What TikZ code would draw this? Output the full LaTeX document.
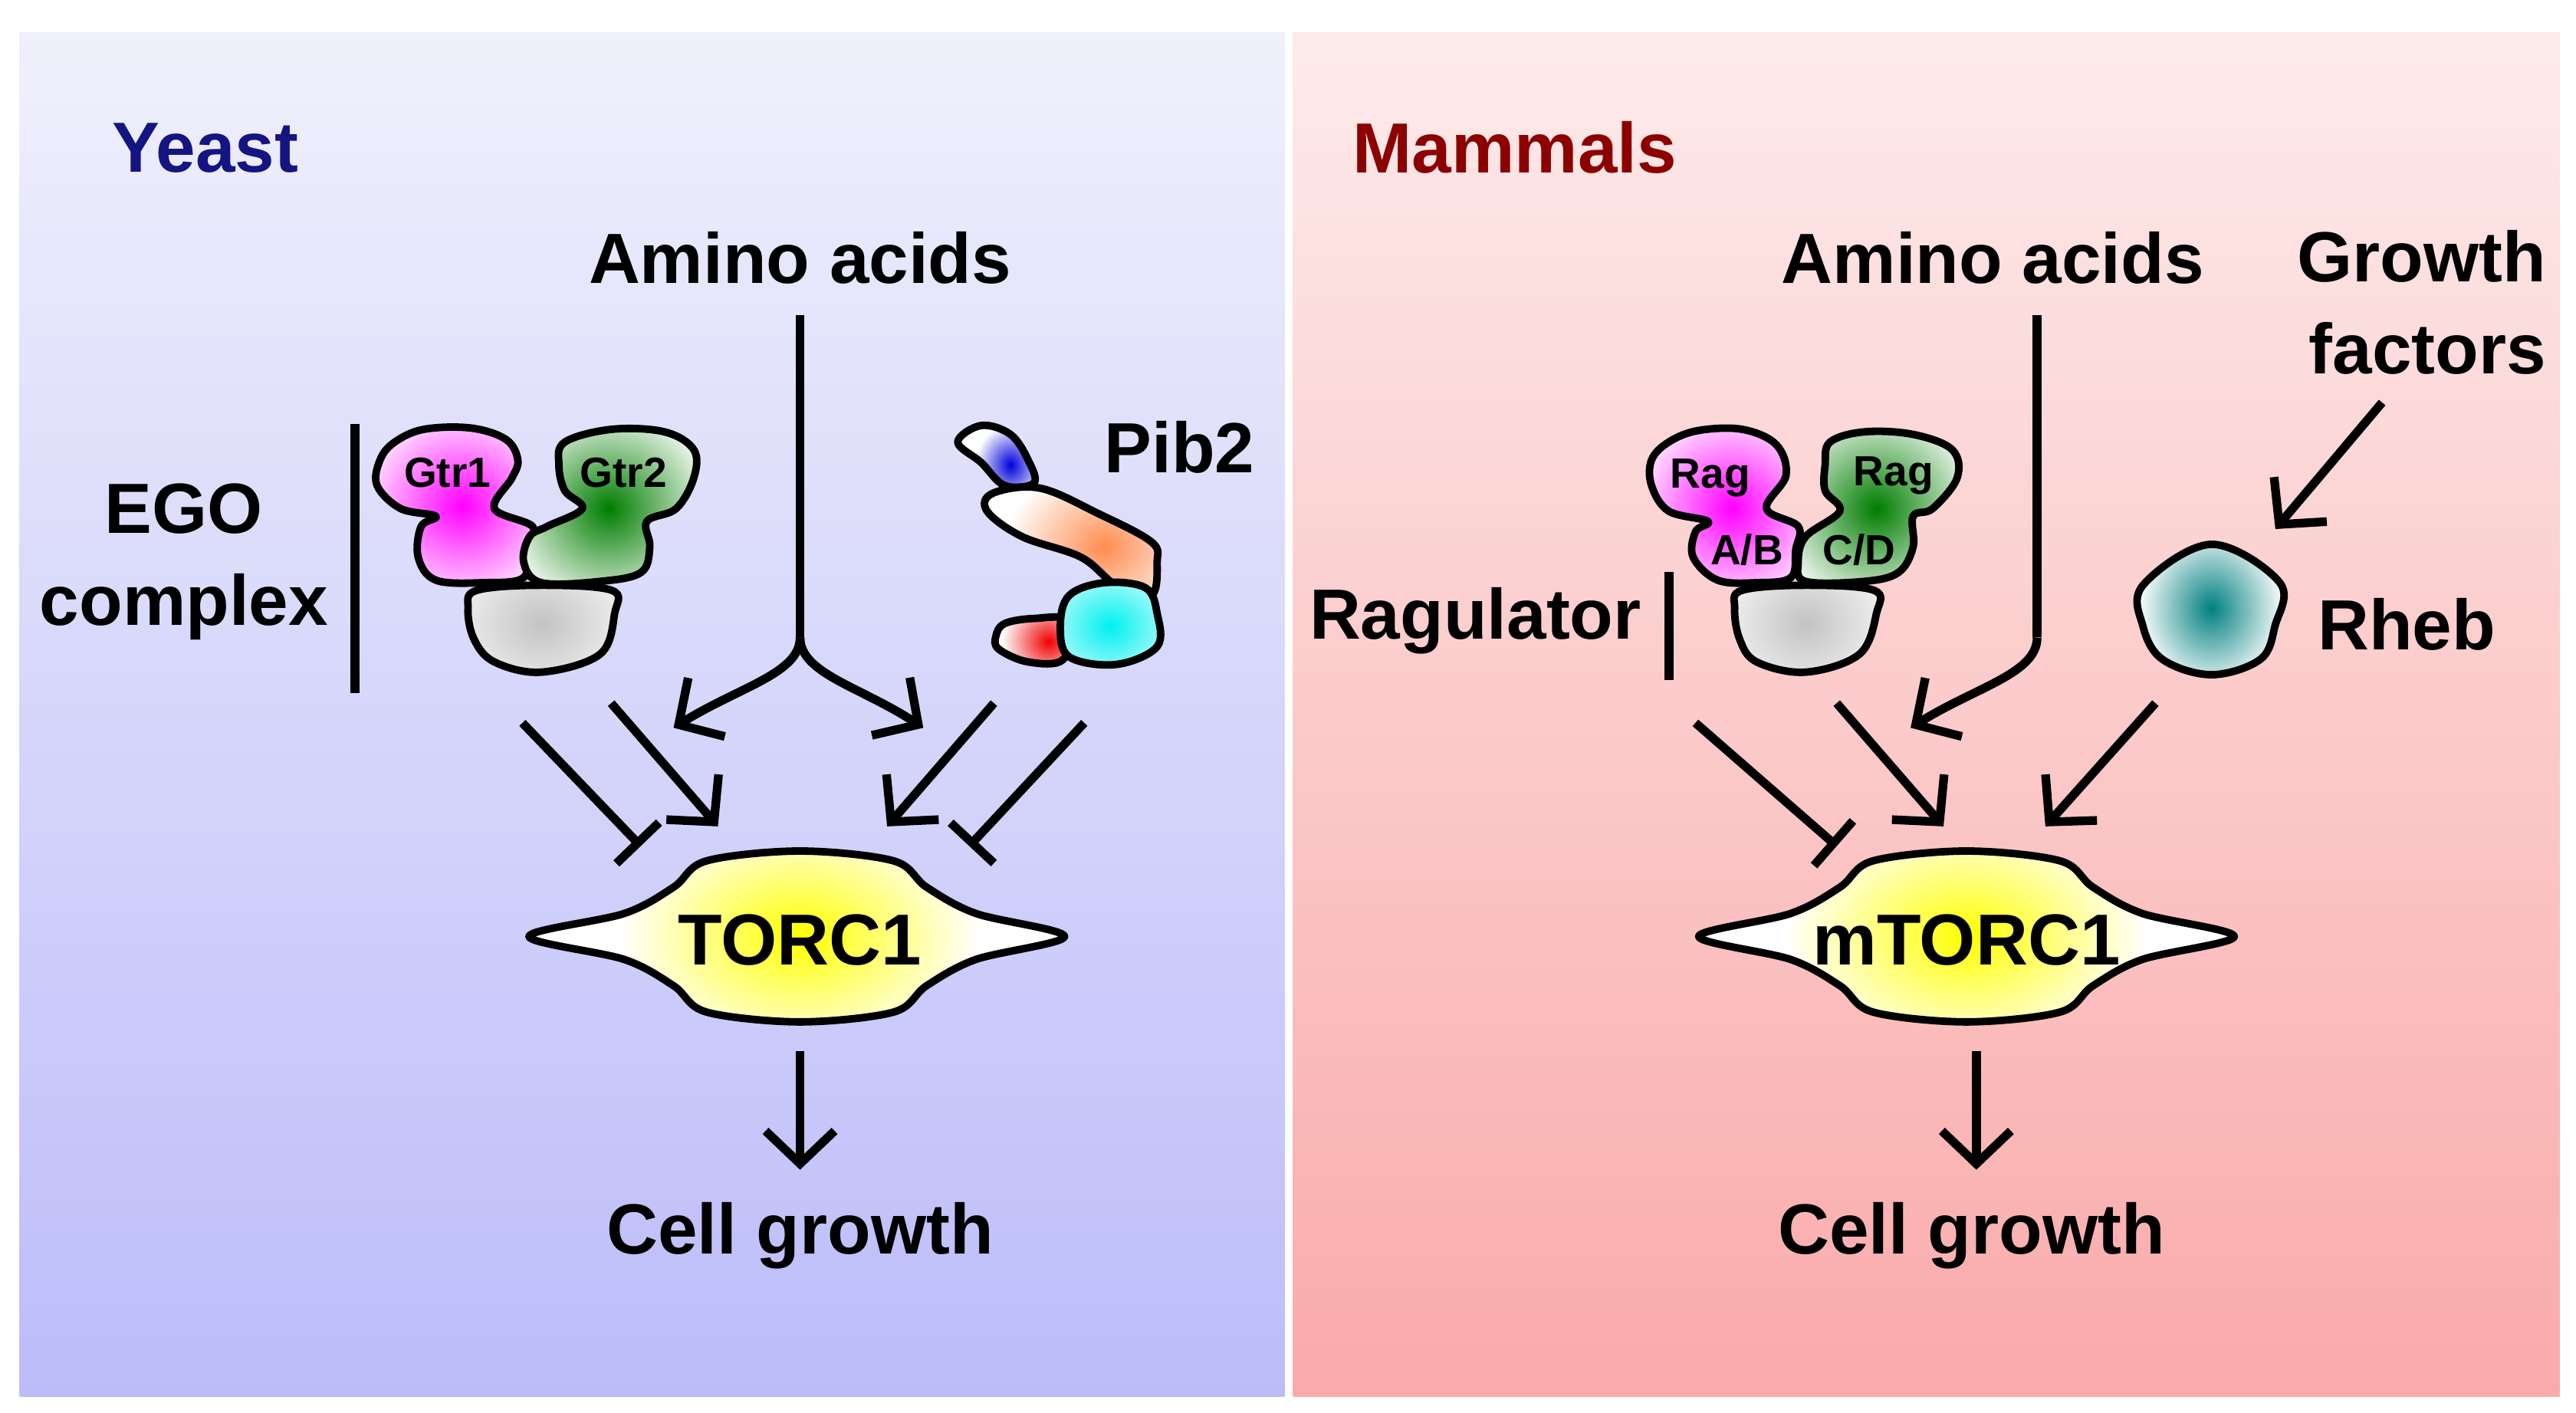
\documentclass[tikz,border=0pt]{standalone}
\usepackage{fontspec}
\setmainfont{Liberation Sans}
\usetikzlibrary{arrows.meta}
\definecolor{navy}{RGB}{20,20,130}
\definecolor{dred}{RGB}{140,0,0}
\definecolor{lt}{RGB}{240,240,252}
\definecolor{lb}{RGB}{188,188,250}
\definecolor{rt}{RGB}{253,235,235}
\definecolor{rb}{RGB}{250,170,170}
\definecolor{gm}{RGB}{255,0,255}
\definecolor{gg}{RGB}{0,125,0}
\definecolor{gy}{RGB}{195,195,195}
\definecolor{gb}{RGB}{0,0,220}
\definecolor{go}{RGB}{255,140,80}
\definecolor{gc}{RGB}{0,240,240}
\definecolor{gr}{RGB}{240,0,0}
\definecolor{gt}{RGB}{0,128,128}
\definecolor{gyel}{RGB}{255,255,0}
\newcommand\myblob[4]{%
 \fill[white] plot[smooth cycle,tension=0.6] coordinates {#1};
 \begin{scope}\clip plot[smooth cycle,tension=0.6] coordinates {#1};
 \shade[inner color=#2, outer color=white] #3 ellipse [#4];\end{scope}
 \draw[blobline] plot[smooth cycle,tension=0.6] coordinates {#1};}
\tikzset{
 blobline/.style={line width=1.3pt,line join=round},
 act/.style={line width=1.5pt,-{Straight Barb[length=0.2cm,width=0.42cm,line width=1.5pt]}},
 inh/.style={line width=1.5pt,-{Bar[width=0.36cm,line width=1.5pt]}},
 big/.style={font=\fontsize{12.3}{15}\selectfont\bfseries},
 small/.style={font=\fontsize{7.3}{9}\selectfont\bfseries},
}
\begin{document}
\begin{tikzpicture}[x=0.01cm,y=-0.01cm]
\useasboundingbox (0,0) rectangle (1568,860);
\fill[white] (0,0) rectangle (1568,860);
\shade[top color=lt,bottom color=lb] (12,20) rectangle (782,850);
\shade[top color=rt,bottom color=rb] (787,20) rectangle (1558,850);
\node[big,text=navy] (yeast) at (125,90) {Yeast};
\node[big,text=dred] (mam) at (922,90) {Mammals};
% ---------- left panel
\node[big] (aa1) at (487,157) {Amino acids};
\node[big,align=center,font=\fontsize{12.3}{16}\selectfont\bfseries] (ego) at (112,342) {EGO\\complex};
\draw[line width=1.5pt] (216,258) -- (216,422);
\begin{scope}[shift={(186.7,233.3)},xscale=0.357,yscale=0.1556]
\myblob{(290,810)(400,790)(520,810)(525,900)(500,1060)(400,1130)(320,1090)(285,1000)(275,880)}{gy}{(400,940)}{x radius=200,y radius=380}
\myblob{(150,230)(200,180)(280,175)(340,220)(360,300)(350,370)(320,490)(385,560)(375,640)(370,760)(300,780)(220,770)(190,680)(195,560)(220,520)(160,490)(120,400)(125,300)}{gm}{(265,480)}{x radius=190,y radius=420}
\myblob{(440,230)(520,180)(610,190)(660,260)(660,370)(630,490)(580,540)(585,640)(570,740)(500,775)(400,780)(370,700)(380,600)(410,560)(470,490)(440,420)(430,320)}{gg}{(515,490)}{x radius=190,y radius=420}
\node[small] (g1) at (240,350) {Gtr1};
\node[small] (g2) at (540,350) {Gtr2};
\myblob{(1110,230)(1150,165)(1200,200)(1230,300)(1240,390)(1190,400)(1150,310)}{gb}{(1200,320)}{x radius=60,y radius=160}
\myblob{(1170,430)(1250,410)(1350,510)(1440,620)(1450,700)(1440,830)(1380,790)(1320,680)(1220,600)(1160,500)}{go}{(1360,640)}{x radius=170,y radius=330}
\myblob{(1190,940)(1240,920)(1300,930)(1290,1080)(1230,1090)(1180,1040)(1175,990)}{gr}{(1265,1010)}{x radius=80,y radius=170}
\myblob{(1300,830)(1360,780)(1430,800)(1450,900)(1450,1030)(1380,1100)(1300,1070)(1285,950)}{gc}{(1370,950)}{x radius=150,y radius=300}
\end{scope}
\node[big] (pib) at (718,272) {Pib2};
\coordinate (s1) at (487,192);
\coordinate (sp1) at (487,388);
\coordinate (e1) at (410,443);
\coordinate (e2) at (562,443);
\draw[line width=1.5pt] (s1) -- (sp1);
\draw[act] (sp1) .. controls (487,410) and (450,418) .. (e1);
\draw[act] (sp1) .. controls (487,410) and (524,418) .. (e2);
\coordinate (a1) at (318,440); \coordinate (b1) at (390,515);
\coordinate (a2) at (372,428); \coordinate (b2) at (437,503);
\coordinate (a3) at (605,428); \coordinate (b3) at (540,503);
\coordinate (a4) at (660,440); \coordinate (b4) at (590,515);
\draw[inh] (a1) -- (b1);
\draw[act] (a2) -- (b2);
\draw[act] (a3) -- (b3);
\draw[inh] (a4) -- (b4);
\begin{scope}[shift={(487,570)}]
\fill[white] plot[smooth cycle,tension=0.55] coordinates {(-165,0)(-107,-14)(-77,-30)(-57,-46)(0,-52)(57,-46)(77,-30)(107,-14)(161,0)(107,14)(77,30)(57,46)(0,52)(-57,46)(-77,30)(-107,14)};
\begin{scope}\clip plot[smooth cycle,tension=0.55] coordinates {(-165,0)(-107,-14)(-77,-30)(-57,-46)(0,-52)(57,-46)(77,-30)(107,-14)(161,0)(107,14)(77,30)(57,46)(0,52)(-57,46)(-77,30)(-107,14)};
\shade[inner color=gyel,outer color=white] (0,0) ellipse [x radius=110,y radius=75];\end{scope}
\draw[blobline] plot[smooth cycle,tension=0.55] coordinates {(-165,0)(-107,-14)(-77,-30)(-57,-46)(0,-52)(57,-46)(77,-30)(107,-14)(161,0)(107,14)(77,30)(57,46)(0,52)(-57,46)(-77,30)(-107,14)};
\end{scope}
\node[big,font=\fontsize{12.5}{15}\selectfont\bfseries] (torc) at (487,572) {TORC1};
\coordinate (d1) at (487,640); \coordinate (d2) at (487,712);
\draw[act] (d1) -- (d2);
\node[big] (cg1) at (487,752) {Cell growth};
% ---------- right panel
\node[big] (aa2) at (1213,157) {Amino acids};
\node[big,align=right,font=\fontsize{12.3}{16}\selectfont\bfseries] (gf) at (1474,184) {Growth\\factors};
\node[big] (rag) at (898,378) {Ragulator};
\draw[line width=1.5pt] (1016,348) -- (1016,414);
\begin{scope}[shift={(980,233.3)},xscale=0.2976,yscale=0.1556]
\myblob{(270,810)(400,790)(540,810)(545,900)(510,1060)(400,1130)(300,1090)(265,1000)(255,880)}{gy}{(400,940)}{x radius=220,y radius=380}
\myblob{(120,230)(180,185)(270,180)(340,240)(360,360)(320,490)(385,560)(380,650)(370,760)(300,780)(220,770)(170,680)(175,580)(200,540)(120,500)(85,400)(85,300)}{gm}{(250,490)}{x radius=220,y radius=420}
\myblob{(450,230)(520,190)(620,200)(700,260)(710,370)(660,490)(620,520)(620,640)(590,740)(520,775)(400,775)(385,700)(400,600)(470,500)(440,420)(440,320)}{gg}{(545,490)}{x radius=220,y radius=420}
\node[small] (r1) at (205,370) {Rag};
\node[small] (r2) at (580,360) {Rag};
\node[small] (r3) at (280,650) {A/B};
\node[small] (r4) at (510,650) {C/D};
\myblob{(1090,790)(1230,630)(1370,780)(1360,950)(1330,1080)(1230,1140)(1130,1080)(1090,950)}{gt}{(1230,880)}{x radius=150,y radius=330}
\end{scope}
\node[big] (rheb) at (1465,380) {Rheb};
\coordinate (s2) at (1240,192);
\coordinate (sp2) at (1240,388);
\coordinate (e3) at (1163,443);
\draw[line width=1.5pt] (s2) -- (sp2);
\draw[act] (sp2) .. controls (1240,410) and (1203,418) .. (e3);
\coordinate (gfa) at (1450,245); \coordinate (gfb) at (1385,322);
\draw[act] (gfa) -- (gfb);
\coordinate (a5) at (1032,440); \coordinate (b5) at (1118,515);
\coordinate (a6) at (1118,428); \coordinate (b6) at (1183,503);
\coordinate (a7) at (1312,428); \coordinate (b7) at (1245,503);
\draw[inh] (a5) -- (b5);
\draw[act] (a6) -- (b6);
\draw[act] (a7) -- (b7);
\begin{scope}[shift={(1197,570)}]
\fill[white] plot[smooth cycle,tension=0.55] coordinates {(-163,0)(-107,-14)(-77,-30)(-57,-46)(0,-52)(57,-46)(77,-30)(107,-14)(163,0)(107,14)(77,30)(57,46)(0,52)(-57,46)(-77,30)(-107,14)};
\begin{scope}\clip plot[smooth cycle,tension=0.55] coordinates {(-163,0)(-107,-14)(-77,-30)(-57,-46)(0,-52)(57,-46)(77,-30)(107,-14)(163,0)(107,14)(77,30)(57,46)(0,52)(-57,46)(-77,30)(-107,14)};
\shade[inner color=gyel,outer color=white] (0,0) ellipse [x radius=110,y radius=75];\end{scope}
\draw[blobline] plot[smooth cycle,tension=0.55] coordinates {(-163,0)(-107,-14)(-77,-30)(-57,-46)(0,-52)(57,-46)(77,-30)(107,-14)(163,0)(107,14)(77,30)(57,46)(0,52)(-57,46)(-77,30)(-107,14)};
\end{scope}
\node[big,font=\fontsize{12.5}{15}\selectfont\bfseries] (mtorc) at (1197,572) {mTORC1};
\coordinate (d3) at (1203,640); \coordinate (d4) at (1203,712);
\draw[act] (d3) -- (d4);
\node[big] (cg2) at (1200,752) {Cell growth};
\end{tikzpicture}
\end{document}
